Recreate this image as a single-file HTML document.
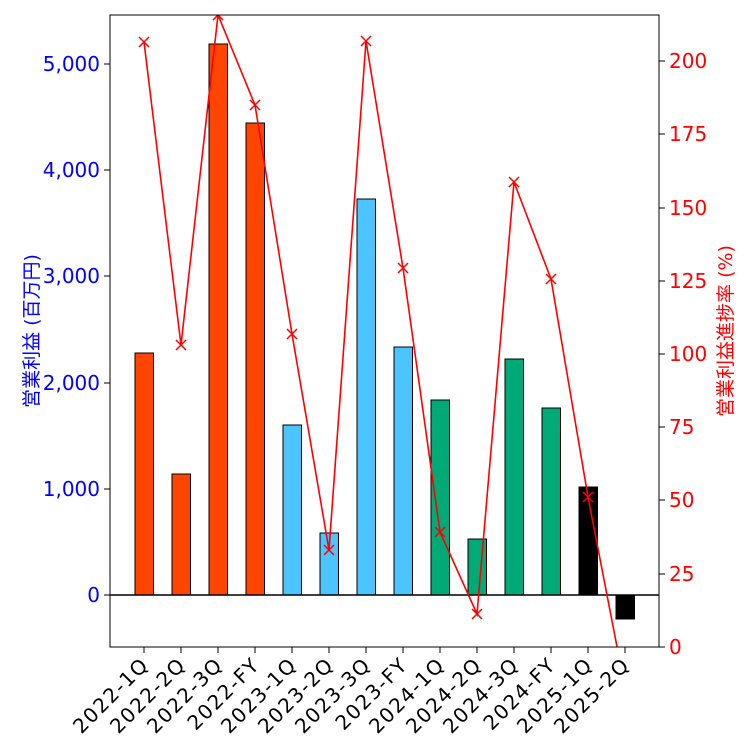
<!DOCTYPE html>
<html><head><meta charset="utf-8"><style>
body{margin:0;background:#fff}
svg{font-family:"DejaVu Sans","Noto Sans CJK JP",sans-serif}
</style></head><body>
<svg width="750" height="750" viewBox="0 0 750 750" xmlns="http://www.w3.org/2000/svg">
<defs><clipPath id="c"><rect x="110" y="15" width="549" height="632"/></clipPath></defs>
<g stroke="#000" stroke-width="1">
<rect x="135" y="353" width="18.5" height="242" fill="#FF4500"/>
<rect x="172" y="474" width="18.5" height="121" fill="#FF4500"/>
<rect x="209" y="44" width="18.5" height="551" fill="#FF4500"/>
<rect x="246" y="123" width="18.5" height="472" fill="#FF4500"/>
<rect x="283" y="425" width="18.5" height="170" fill="#4CC4FF"/>
<rect x="320" y="533" width="18.5" height="62" fill="#4CC4FF"/>
<rect x="357" y="199" width="18.5" height="396" fill="#4CC4FF"/>
<rect x="394" y="347" width="18.5" height="248" fill="#4CC4FF"/>
<rect x="431" y="400" width="18.5" height="195" fill="#00AA77"/>
<rect x="468" y="539" width="18.5" height="56" fill="#00AA77"/>
<rect x="505" y="359" width="18.5" height="236" fill="#00AA77"/>
<rect x="542" y="408" width="18.5" height="187" fill="#00AA77"/>
<rect x="579" y="487" width="18.5" height="108" fill="#000"/>
<rect x="616" y="595" width="18.5" height="24" fill="#000"/>
</g>
<line x1="110" y1="595" x2="659" y2="595" stroke="#000" stroke-width="1.5"/>
<g clip-path="url(#c)">
<polyline fill="none" stroke="#FF0000" stroke-width="1.6" points="144,42 181,345 218,15 255,105 292,334 329,550 366,41 403,268 440,532 477,614 514,182 551,279 588,497 625,688"/>
<g stroke="#FF0000" stroke-width="1.5">
<path d="M139,37l10,10M149,37l-10,10M176,340l10,10M186,340l-10,10M213,10l10,10M223,10l-10,10M250,100l10,10M260,100l-10,10M287,329l10,10M297,329l-10,10M324,545l10,10M334,545l-10,10M361,36l10,10M371,36l-10,10M398,263l10,10M408,263l-10,10M435,527l10,10M445,527l-10,10M472,609l10,10M482,609l-10,10M509,177l10,10M519,177l-10,10M546,274l10,10M556,274l-10,10M583,492l10,10M593,492l-10,10"/>
</g></g>
<rect x="110" y="15" width="549" height="632" fill="none" stroke="#000" stroke-width="1"/>
<g stroke="#000">
<path d="M104,595h6M104,489h6M104,383h6M104,276h6M104,170h6M104,64h6"/>
<path d="M659,647h6M659,574h6M659,500h6M659,427h6M659,354h6M659,281h6M659,208h6M659,134h6M659,61h6"/>
<path d="M144,647v6M181,647v6M218,647v6M255,647v6M292,647v6M329,647v6M366,647v6M403,647v6M440,647v6M477,647v6M514,647v6M551,647v6M588,647v6M625,647v6"/>
</g>
<g fill="#0000FF" font-size="20" text-anchor="end">
<text x="100" y="602">0</text><text x="100" y="496">1,000</text><text x="100" y="390">2,000</text><text x="100" y="283">3,000</text><text x="100" y="177">4,000</text><text x="100" y="71">5,000</text>
</g>
<text transform="translate(38,331) rotate(-90)" fill="#0000FF" font-size="19" text-anchor="middle">営業利益 (百万円)</text>
<g fill="#FF0000" font-size="20">
<text x="669" y="654">0</text><text x="669" y="581">25</text><text x="669" y="507">50</text><text x="669" y="434">75</text><text x="669" y="361">100</text><text x="669" y="288">125</text><text x="669" y="215">150</text><text x="669" y="141">175</text><text x="669" y="68">200</text>
</g>
<text transform="translate(732,331) rotate(-90)" fill="#FF0000" font-size="19" text-anchor="middle">営業利益進捗率 (%)</text>
<g font-size="20" text-anchor="end" fill="#000" letter-spacing="1.5">
<text transform="translate(150,666) rotate(-45)">2022-1Q</text>
<text transform="translate(187,666) rotate(-45)">2022-2Q</text>
<text transform="translate(224,666) rotate(-45)">2022-3Q</text>
<text transform="translate(261,666) rotate(-45)">2022-FY</text>
<text transform="translate(298,666) rotate(-45)">2023-1Q</text>
<text transform="translate(335,666) rotate(-45)">2023-2Q</text>
<text transform="translate(372,666) rotate(-45)">2023-3Q</text>
<text transform="translate(409,666) rotate(-45)">2023-FY</text>
<text transform="translate(446,666) rotate(-45)">2024-1Q</text>
<text transform="translate(483,666) rotate(-45)">2024-2Q</text>
<text transform="translate(520,666) rotate(-45)">2024-3Q</text>
<text transform="translate(557,666) rotate(-45)">2024-FY</text>
<text transform="translate(594,666) rotate(-45)">2025-1Q</text>
<text transform="translate(631,666) rotate(-45)">2025-2Q</text>
</g>
</svg>
</body></html>
